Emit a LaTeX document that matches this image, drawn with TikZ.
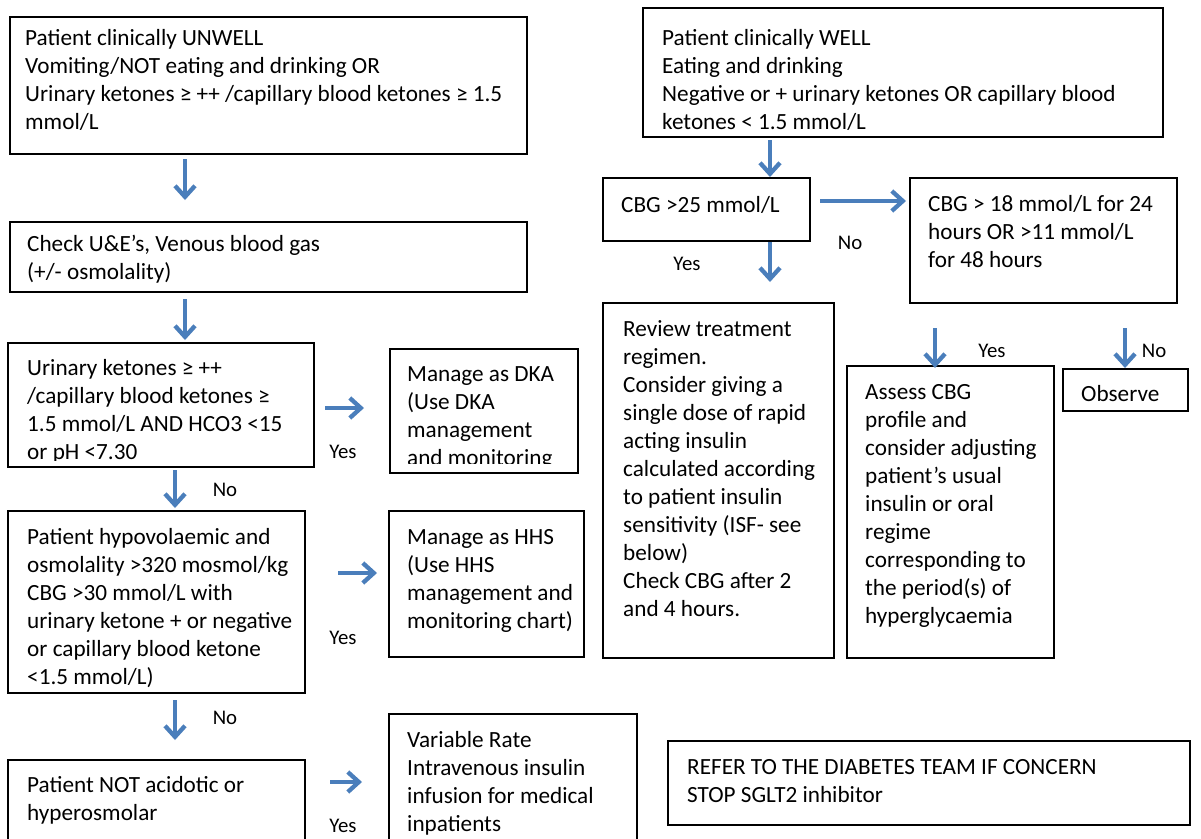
\documentclass[tikz,border=0pt]{standalone}
\usepackage{fontspec}
\setmainfont{Carlito}
\usetikzlibrary{arrows.meta}
\definecolor{arrowblue}{RGB}{74,126,187}
\begin{document}
\begin{tikzpicture}[x=1pt,y=-1pt,
  box/.style={draw=black, line width=1.6pt, anchor=north west, inner sep=0pt, outer sep=0pt},
  txt/.style={anchor=north west, inner sep=0pt, align=left, font=\fontsize{23.2}{28}\selectfont},
  lbl/.style={inner sep=0pt, font=\fontsize{20.8}{24}\selectfont},
  flow/.style={draw=arrowblue, line width=4.3pt, -{Straight Barb[length=11pt,width=20pt]}}]
\useasboundingbox (0,0) rectangle (1201,838);
\clip (0,0) rectangle (1201,838);
\fill[white] (0,0) rectangle (1201,838);

% boxes
\node[box, minimum width=517pt, minimum height=137pt] (unwell) at (10,17) {};
\node[box, minimum width=520pt, minimum height=129pt] (well) at (643,8) {};
\node[box, minimum width=517pt, minimum height=70pt] (check) at (10,222) {};
\node[box, minimum width=306pt, minimum height=124pt] (urin) at (8,343) {};
\node[box, minimum width=188pt, minimum height=124pt] (dka) at (390,349) {};
\node[box, minimum width=297pt, minimum height=182pt] (hypo) at (8,511) {};
\node[box, minimum width=195pt, minimum height=146pt] (hhs) at (389,511) {};
\node[box, minimum width=297pt, minimum height=100pt] (notacid) at (8,760) {};
\node[box, minimum width=248pt, minimum height=140pt] (vr) at (389,714) {};
\node[box, minimum width=522pt, minimum height=84pt] (refer) at (668,741) {};
\node[box, minimum width=207pt, minimum height=63pt] (cbg25) at (603,178) {};
\node[box, minimum width=267pt, minimum height=125pt] (cbg18) at (910,178) {};
\node[box, minimum width=231pt, minimum height=355pt] (review) at (603,303) {};
\node[box, minimum width=207pt, minimum height=292pt] (assess) at (847,366) {};
\node[box, minimum width=125pt, minimum height=42pt] (observe) at (1063,369) {};

% texts (top = first baseline - 19.6)
\node[txt] (unwell-t) at (25,25.4) {\strut Patient clinically UNWELL\\Vomiting/NOT eating and drinking OR\\Urinary ketones ≥ ++ /capillary blood ketones ≥ 1.5\\mmol/L};
\node[txt] (well-t) at (662,25.4) {\strut Patient clinically WELL\\Eating and drinking\\Negative or + urinary ketones OR capillary blood\\ketones < 1.5 mmol/L};
\node[txt] (check-t) at (27,231.4) {\strut Check U\&E’s, Venous blood gas\\(+/- osmolality)};
\begin{scope}
  \clip (8,343) rectangle (314,460);
  \node[txt] (urin-t) at (27,355.4) {\strut Urinary ketones ≥ ++\\/capillary blood ketones ≥\\1.5 mmol/L AND HCO3 <15\\or pH <7.30};
\end{scope}
\begin{scope}
  \clip (390,349) rectangle (578,463);
  \node[txt] (dka-t) at (407,361.4) {\strut Manage as DKA\\(Use DKA\\management\\and monitoring};
\end{scope}
\node[txt] (hypo-t) at (27,524.4) {\strut Patient hypovolaemic and\\osmolality >320 mosmol/kg\\CBG >30 mmol/L with\\urinary ketone + or negative\\or capillary blood ketone\\<1.5 mmol/L)};
\node[txt] (hhs-t) at (407,524.4) {\strut Manage as HHS\\(Use HHS\\management and\\monitoring chart)};
\node[txt] (notacid-t) at (27,772.4) {\strut Patient NOT acidotic or\\hyperosmolar};
\node[txt] (vr-t) at (407,727.4) {\strut Variable Rate\\Intravenous insulin\\infusion for medical\\inpatients};
\node[txt] (refer-t) at (687,754.4) {\strut REFER TO THE DIABETES TEAM IF CONCERN\\STOP SGLT2 inhibitor};
\node[txt] (cbg25-t) at (621,192.4) {\strut CBG >25 mmol/L};
\node[txt] (cbg18-t) at (928,191.4) {\strut CBG > 18 mmol/L for 24\\hours OR >11 mmol/L\\for 48 hours};
\node[txt] (review-t) at (623,316.4) {\strut Review treatment\\regimen.\\Consider giving a\\single dose of rapid\\acting insulin\\calculated according\\to patient insulin\\sensitivity (ISF- see\\below)\\Check CBG after 2\\and 4 hours.};
\node[txt] (assess-t) at (865,379.4) {\strut Assess CBG\\profile and\\consider adjusting\\patient’s usual\\insulin or oral\\regime\\corresponding to\\the period(s) of\\hyperglycaemia};
\node[txt] (observe-t) at (1081,381.4) {\strut Observe};

% arrow end points
\coordinate (a1s) at (185,159);  \coordinate (a1e) at (185,200);
\coordinate (a2s) at (185,299);  \coordinate (a2e) at (185,340);
\coordinate (a3s) at (325,408);  \coordinate (a3e) at (364,408);
\coordinate (a4s) at (175,470);  \coordinate (a4e) at (175,508);
\coordinate (a5s) at (338,573);  \coordinate (a5e) at (377,573);
\coordinate (a6s) at (175,700);  \coordinate (a6e) at (175,740);
\coordinate (a7s) at (330,782);  \coordinate (a7e) at (362,782);
\coordinate (a8s) at (770,140);  \coordinate (a8e) at (770,177);
\coordinate (a9s) at (820,201);  \coordinate (a9e) at (906,201);
\coordinate (a10s) at (770,242); \coordinate (a10e) at (770,282);
\coordinate (a11s) at (935,328); \coordinate (a11e) at (935,368);
\coordinate (a12s) at (1125,328); \coordinate (a12e) at (1125,368);

\draw[flow] (a1s) -- (a1e);
\draw[flow] (a2s) -- (a2e);
\draw[flow] (a3s) -- (a3e);
\draw[flow] (a4s) -- (a4e);
\draw[flow] (a5s) -- (a5e);
\draw[flow] (a6s) -- (a6e);
\draw[flow] (a7s) -- (a7e);
\draw[flow] (a8s) -- (a8e);
\draw[flow] (a9s) -- (a9e);
\draw[flow] (a10s) -- (a10e);
\draw[flow] (a11s) -- (a11e);
\draw[flow] (a12s) -- (a12e);

% labels
\node[lbl] (l1) at (343,452) {Yes};
\node[lbl] (l2) at (225,490) {No};
\node[lbl] (l3) at (343,638) {Yes};
\node[lbl] (l4) at (225,718) {No};
\node[lbl] (l5) at (343,826) {Yes};
\node[lbl] (l6) at (850,243) {No};
\node[lbl] (l7) at (687,264) {Yes};
\node[lbl] (l8) at (992,351) {Yes};
\node[lbl] (l9) at (1154,351) {No};
\end{tikzpicture}
\end{document}
